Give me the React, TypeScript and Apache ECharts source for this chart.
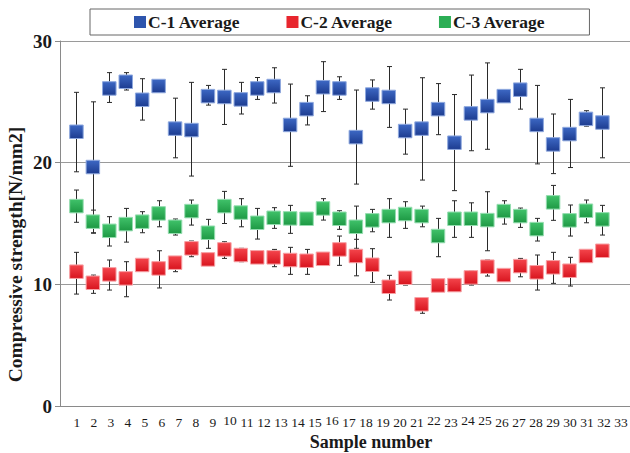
import React, { useEffect, useRef } from "react";
import * as echarts from "echarts";

const sampleNumbers = [1, 2, 3, 4, 5, 6, 7, 8, 9, 10, 11, 12, 13, 14, 15, 16, 17, 18, 19, 20, 21, 22, 23, 24, 25, 26, 27, 28, 29, 30, 31, 32, 33];
const raisedLabels = [10, 16, 22, 24, 25];
const yTicks = [0, 10, 20, 30];

const c1Avg = [22.54, 19.64, 26.1, 26.65, 25.17, 26.3, 22.8, 22.68, 25.47, 25.4, 25.2, 26.1, 26.3, 23.1, 24.4, 26.2, 26.1, 22.1, 25.6, 25.4, 22.6, 22.8, 24.4, 21.64, 24.05, 24.65, 25.47, 26.0, 23.1, 21.5, 22.35, 23.6, 23.3];
const c1Hi = [25.78, 25.0, 27.4, 27.4, 26.9, 26.6, 25.3, 26.6, 26.35, 27.67, 26.6, 27.0, 27.8, 26.46, 25.5, 28.3, 27.06, 25.97, 26.8, 27.9, 24.4, 26.98, 26.5, 25.6, 27.2, 28.2, 25.75, 27.67, 26.35, 24.0, 25.2, 24.27, 26.15];
const c1Lo = [19.25, 14.2, 24.95, 25.97, 23.5, 26.0, 20.4, 18.9, 24.73, 23.14, 24.0, 25.2, 24.9, 19.7, 23.1, 24.2, 25.2, 18.24, 24.4, 22.9, 20.7, 18.57, 22.3, 17.7, 20.98, 21.1, 25.2, 24.4, 19.9, 19.1, 19.6, 23.0, 20.4];

const c2Avg = [11.04, 10.13, 10.82, 10.49, 11.59, 11.31, 11.78, 12.96, 12.05, 12.87, 12.41, 12.22, 12.22, 12.0, 11.94, 12.1, 12.87, 12.33, 11.61, 9.8, 10.54, 8.36, 9.91, 9.94, 10.57, 11.45, 10.76, 11.5, 10.99, 11.4, 11.12, 12.33, 12.76];
const c2Hi = [12.63, 10.76, 12.0, 11.86, 11.85, 12.76, 12.22, 13.56, 12.25, 13.5, 12.96, 12.5, 12.87, 13.04, 12.87, 12.3, 13.97, 13.7, 12.93, 10.74, 11.0, 8.85, 10.15, 10.14, 11.09, 12.0, 10.96, 12.13, 12.41, 12.63, 12.22, 12.53, 12.96];
const c2Lo = [9.2, 9.26, 9.53, 8.98, 11.3, 9.7, 11.04, 12.27, 11.85, 12.13, 11.86, 11.95, 11.45, 10.82, 10.82, 11.9, 11.56, 10.7, 10.16, 8.71, 9.94, 7.62, 9.7, 9.74, 9.94, 10.68, 10.56, 10.62, 9.53, 10.08, 9.86, 12.13, 12.56];

const c3Avg = [16.43, 15.15, 14.4, 14.95, 15.15, 15.83, 14.73, 16.02, 14.24, 16.43, 15.9, 15.06, 15.47, 15.42, 15.39, 16.24, 15.39, 14.73, 15.26, 15.61, 15.78, 15.61, 13.97, 15.39, 15.39, 15.28, 16.02, 15.61, 14.54, 16.74, 15.26, 16.05, 15.34];
const c3Hi = [17.75, 16.1, 15.56, 16.24, 15.97, 16.87, 15.37, 16.93, 15.34, 17.64, 17.04, 16.24, 16.3, 16.49, 15.6, 17.04, 16.05, 16.43, 16.16, 17.04, 16.79, 16.43, 15.42, 16.87, 16.7, 17.61, 16.87, 16.27, 15.42, 18.13, 16.52, 16.93, 16.49];
const c3Lo = [15.1, 14.24, 13.15, 13.47, 14.24, 14.73, 14.05, 14.87, 12.96, 15.0, 14.73, 13.72, 14.6, 14.19, 15.2, 15.28, 14.52, 12.96, 14.32, 13.86, 14.6, 14.73, 12.27, 13.86, 13.86, 12.76, 14.95, 14.68, 13.56, 15.26, 13.97, 15.06, 14.05];

const FONT = "'Liberation Serif', 'Times New Roman', serif";

const grad = (top: string, bottom: string) =>
  new echarts.graphic.LinearGradient(0, 0, 0, 1, [
    { offset: 0, color: top },
    { offset: 1, color: bottom },
  ]);

const groups = [
  { name: "C-1 Average", avg: c1Avg, hi: c1Hi, lo: c1Lo, top: "#3d68c4", bottom: "#1d3c90", border: "#8ea8de", legend: "#2e55ad" },
  { name: "C-2 Average", avg: c2Avg, hi: c2Hi, lo: c2Lo, top: "#f4454c", bottom: "#d8141e", border: "#f7a0a4", legend: "#e8262e" },
  { name: "C-3 Average", avg: c3Avg, hi: c3Hi, lo: c3Lo, top: "#40c26a", bottom: "#1e9944", border: "#95ddb0", legend: "#2cae55" },
];

export default function App() {
  const ref = useRef<HTMLDivElement>(null);
  useEffect(() => {
    document.body.style.margin = "0";
    if (!ref.current) return;
    const chart = echarts.init(ref.current, undefined, { renderer: "svg" });

    const errorSeries = groups.map((g) => ({
      type: "custom",
      name: g.name + " error",
      xAxisIndex: 0,
      yAxisIndex: 0,
      z: 1,
      silent: true,
      data: sampleNumbers.map((n, i) => [n, g.lo[i], g.hi[i]]),
      encode: { x: 0, y: [1, 2] },
      renderItem: (_p: any, api: any) => {
        const x = api.value(0);
        const pHi = api.coord([x, api.value(2)]);
        const pLo = api.coord([x, api.value(1)]);
        const cx = Math.round(pHi[0]) + 0.5;
        const w = 2.5;
        const st = { stroke: "#2a2a2a", lineWidth: 1 };
        return {
          type: "group",
          children: [
            { type: "line", shape: { x1: cx, y1: pHi[1], x2: cx, y2: pLo[1] }, style: st },
            { type: "line", shape: { x1: cx - w, y1: pHi[1], x2: cx + w, y2: pHi[1] }, style: st },
            { type: "line", shape: { x1: cx - w, y1: pLo[1], x2: cx + w, y2: pLo[1] }, style: st },
          ],
        };
      },
    }));

    const markerSeries = groups.map((g) => ({
      type: "scatter",
      name: g.name,
      xAxisIndex: 0,
      yAxisIndex: 0,
      z: 3,
      symbol: "rect",
      symbolSize: 13.5,
      data: sampleNumbers.map((n, i) => [n, g.avg[i]]),
      itemStyle: {
        color: grad(g.top, g.bottom),
        borderColor: g.border,
        borderWidth: 1,
        opacity: 1,
      },
    }));

    chart.setOption({
      animation: false,
      backgroundColor: "#ffffff",
      textStyle: { fontFamily: FONT },
      legend: {
        data: groups.map((g) => ({ name: g.name, itemStyle: { color: g.legend, borderWidth: 0 } })),
        left: 90,
        top: 9,
        icon: "rect",
        itemWidth: 12,
        itemHeight: 12,
        itemGap: 46,
        padding: [4, 44, 4, 44],
        borderColor: "#666666",
        borderWidth: 1,
        textStyle: { fontFamily: FONT, fontSize: 17.5, fontWeight: "bold", color: "#1a1a1a", padding: [0, 0, 0, -3] },
      },
      grid: { left: 60, right: 0, top: 41, bottom: 47, containLabel: false, outerBoundsMode: "none" },
      xAxis: [
        {
          type: "value",
          position: "bottom",
          min: 0,
          max: 34.68,
          axisLine: { show: true, lineStyle: { color: "#8a8a8a", width: 1 } },
          axisTick: { show: false },
          axisLabel: { show: false },
          splitLine: { show: false },
        },
        {
          type: "value",
          position: "bottom",
          min: 0,
          max: 33.53,
          interval: 1,
          axisLine: { show: false },
          axisTick: { show: false },
          splitLine: { show: false },
          axisLabel: {
            show: true,
            margin: 9,
            fontFamily: FONT,
            fontSize: 13.5,
            lineHeight: 15,
            color: "#1a1a1a",
            formatter: (v: number) => {
              if (sampleNumbers.indexOf(v) < 0) return "";
              return raisedLabels.indexOf(v) >= 0 ? `{up|${v}}` : String(v);
            },
            rich: {
              up: { fontFamily: FONT, fontSize: 13.5, lineHeight: 10, color: "#1a1a1a" },
            },
          },
          name: "Sample number",
          nameLocation: "middle",
          nameGap: 26,
          nameMoveOverlap: false,
          nameTextStyle: {
            fontFamily: FONT,
            fontSize: 18,
            lineHeight: 19,
            fontWeight: "bold",
            color: "#1a1a1a",
            padding: [0, 0, 0, 52],
          },
        },
      ],
      yAxis: {
        type: "value",
        min: yTicks[0],
        max: yTicks[yTicks.length - 1],
        interval: 10,
        axisLine: { show: true, lineStyle: { color: "#8a8a8a", width: 1 } },
        axisTick: { show: true, length: 5, lineStyle: { color: "#8a8a8a" } },
        splitLine: { show: true, lineStyle: { color: "#9a9a9a", width: 1 } },
        axisLabel: {
          margin: 8,
          fontFamily: FONT,
          fontSize: 19,
          fontWeight: "bold",
          color: "#1a1a1a",
        },
        name: "Compressive strength[N/mm2]",
        nameLocation: "middle",
        nameRotate: 90,
        nameGap: 35,
        nameMoveOverlap: false,
        nameTextStyle: {
          fontFamily: FONT,
          fontSize: 19.5,
          fontWeight: "bold",
          color: "#1a1a1a",
          padding: [0, 62, 0, 0],
        },
      },
      series: [...errorSeries, ...markerSeries],
    });

    return () => chart.dispose();
  }, []);

  return <div ref={ref} style={{ width: 630, height: 453 }} />;
}
